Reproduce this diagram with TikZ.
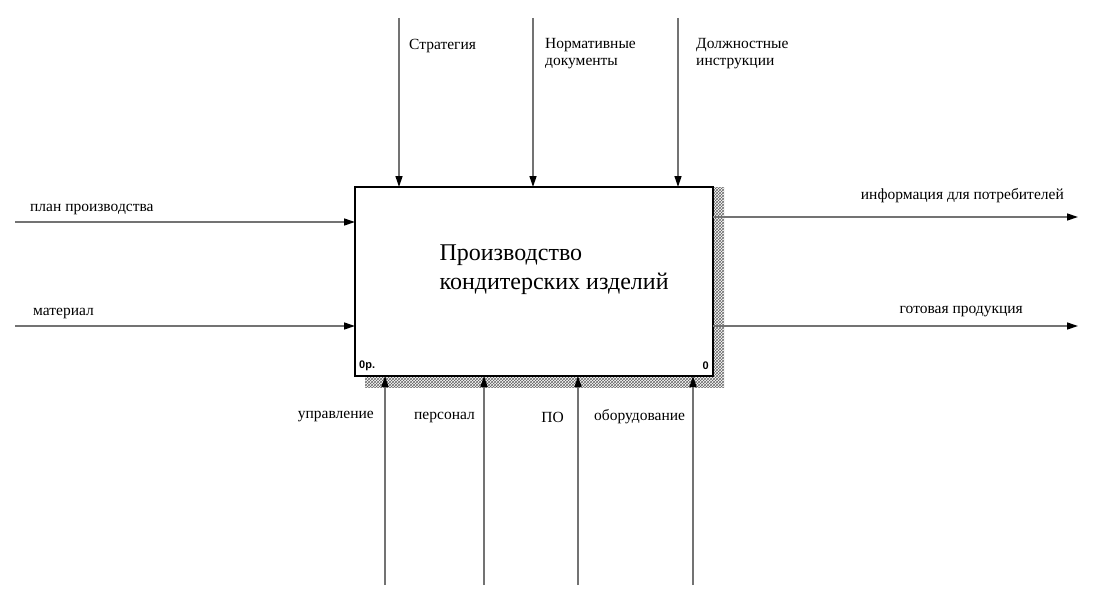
\documentclass[tikz,border=0pt]{standalone}
\usepackage{fontspec}
\setmainfont{Liberation Serif}
\newfontfamily\boxfont{Liberation Sans}
\usetikzlibrary{arrows.meta,patterns}
\begin{document}
\begin{tikzpicture}
    [x=1pt,y=-1pt,
     arr/.style={draw=black!55,line width=1.3pt,-{Triangle[black,length=11pt,width=7pt]}},
     lbl/.style={font=\fontsize{15.5}{17}\selectfont,inner sep=0pt,align=left}]

    \useasboundingbox (0,0) rectangle (1098,610);

    % shadow and box:
    \fill [pattern=crosshatch,pattern color=black!60] (365,187) rectangle (724,387);
    \fill [white] (355,187) rectangle (713,376);
    \draw [line width=2pt] (355,187) rectangle (713,376);

    \node (title) at (436,270) [anchor=west,align=left,font=\fontsize{24}{29}\selectfont]
      {Производство\\кондитерских изделий};
    \node (num1) at (359,366) [anchor=west,inner sep=0pt,font=\boxfont\bfseries\fontsize{11}{12}\selectfont] {0р.};
    \node (num2) at (709,366) [anchor=east,inner sep=0pt,font=\boxfont\bfseries\fontsize{11}{12}\selectfont] {0};

    % controls:
    \coordinate (c1s) at (399,18);  \coordinate (c1e) at (399,187);
    \coordinate (c2s) at (533,18);  \coordinate (c2e) at (533,187);
    \coordinate (c3s) at (678,18);  \coordinate (c3e) at (678,187);
    \draw [arr] (c1s) -- (c1e);
    \draw [arr] (c2s) -- (c2e);
    \draw [arr] (c3s) -- (c3e);
    \node (lc1) at (409,46) [lbl,anchor=west] {Стратегия};
    \node (lc2) at (545,54) [lbl,anchor=west] {Нормативные\\документы};
    \node (lc3) at (696,54) [lbl,anchor=west] {Должностные\\инструкции};

    % inputs:
    \coordinate (i1s) at (15,222);  \coordinate (i1e) at (355,222);
    \coordinate (i2s) at (15,326);  \coordinate (i2e) at (355,326);
    \draw [arr] (i1s) -- (i1e);
    \draw [arr] (i2s) -- (i2e);
    \node (li1) at (30,209) [lbl,anchor=west] {план производства};
    \node (li2) at (33,313) [lbl,anchor=west] {материал};

    % outputs:
    \coordinate (o1s) at (713,217); \coordinate (o1e) at (1078,217);
    \coordinate (o2s) at (713,326); \coordinate (o2e) at (1078,326);
    \draw [arr] (o1s) -- (o1e);
    \draw [arr] (o2s) -- (o2e);
    \node (lo1) at (1064,196) [lbl,anchor=east] {информация для потребителей};
    \node (lo2) at (1023,312) [lbl,anchor=east] {готовая продукция};

    % mechanisms:
    \coordinate (m1s) at (385,585); \coordinate (m1e) at (385,376);
    \coordinate (m2s) at (484,585); \coordinate (m2e) at (484,376);
    \coordinate (m3s) at (578,585); \coordinate (m3e) at (578,376);
    \coordinate (m4s) at (693,585); \coordinate (m4e) at (693,376);
    \draw [arr] (m1s) -- (m1e);
    \draw [arr] (m2s) -- (m2e);
    \draw [arr] (m3s) -- (m3e);
    \draw [arr] (m4s) -- (m4e);
    \node (lm1) at (374,417) [lbl,anchor=east] {управление};
    \node (lm2) at (475,417) [lbl,anchor=east] {персонал};
    \node (lm3) at (564,417) [lbl,anchor=east] {ПО};
    \node (lm4) at (594,417) [lbl,anchor=west] {оборудование};

\end{tikzpicture}
\end{document}
